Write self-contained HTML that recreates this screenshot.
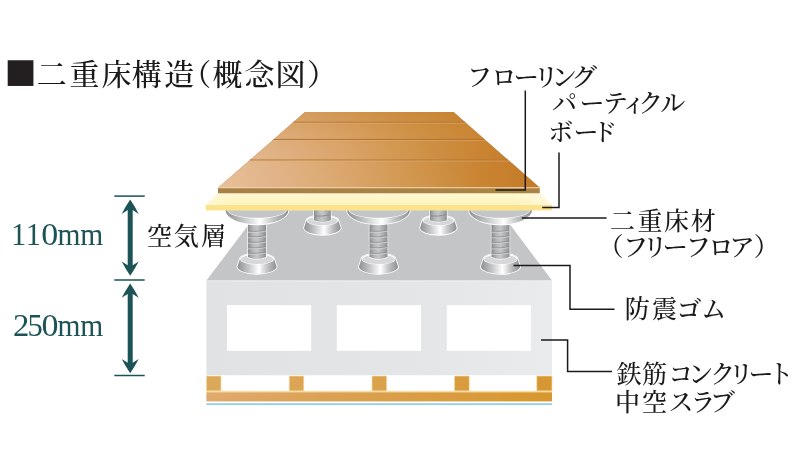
<!DOCTYPE html>
<html lang="ja">
<head>
<meta charset="utf-8">
<title>二重床構造（概念図）</title>
<style>
html,body{margin:0;padding:0;background:#fff;}
body{width:800px;height:474px;overflow:hidden;}
svg{display:block;}
text{font-family:"Liberation Serif", "Noto Serif CJK JP", "Noto Serif CJK SC", serif;font-weight:500;}
</style>
</head>
<body>
<svg width="800" height="474" viewBox="0 0 800 474">
<defs>
<linearGradient id="wood" gradientUnits="userSpaceOnUse" x1="218" y1="0" x2="540" y2="0">
<stop offset="0" stop-color="#e4b88c"/><stop offset="0.15" stop-color="#deae80"/><stop offset="0.38" stop-color="#d8a266"/><stop offset="0.6" stop-color="#d0944a"/><stop offset="0.85" stop-color="#c8822f"/><stop offset="1" stop-color="#c47a28"/>
</linearGradient>
<linearGradient id="woodv" gradientUnits="userSpaceOnUse" x1="0" y1="112" x2="0" y2="188">
<stop offset="0" stop-color="#c07820" stop-opacity="0.35"/><stop offset="0.35" stop-color="#c88630" stop-opacity="0.1"/><stop offset="0.6" stop-color="#c88630" stop-opacity="0"/>
</linearGradient>
<linearGradient id="woodd" gradientUnits="userSpaceOnUse" x1="240" y1="192" x2="330" y2="70">
<stop offset="0" stop-color="#f6dcc4" stop-opacity="0.2"/><stop offset="0.5" stop-color="#f6dcc4" stop-opacity="0.08"/><stop offset="1" stop-color="#f6dcc4" stop-opacity="0"/>
</linearGradient>
<linearGradient id="woodedge" gradientUnits="userSpaceOnUse" x1="218" y1="0" x2="540" y2="0">
<stop offset="0" stop-color="#a68046"/><stop offset="1" stop-color="#aa8444"/>
</linearGradient>
<linearGradient id="shaft" x1="0" y1="0" x2="1" y2="0">
<stop offset="0" stop-color="#8a8c8e"/><stop offset="0.28" stop-color="#b6b7b9"/><stop offset="0.5" stop-color="#c5c6c7"/><stop offset="0.8" stop-color="#a6a8aa"/><stop offset="1" stop-color="#8c8e90"/>
</linearGradient>
<linearGradient id="rim" x1="0" y1="0" x2="1" y2="0">
<stop offset="0" stop-color="#8e9092"/><stop offset="0.3" stop-color="#c8c9ca"/><stop offset="0.55" stop-color="#ffffff"/><stop offset="0.75" stop-color="#c4c5c6"/><stop offset="1" stop-color="#8e9092"/>
</linearGradient>
<linearGradient id="ytop" x1="0" y1="0" x2="0" y2="1">
<stop offset="0" stop-color="#fff8d2"/><stop offset="1" stop-color="#fdf0b2"/>
</linearGradient>
<linearGradient id="yfade" gradientUnits="userSpaceOnUse" x1="515" y1="0" x2="552" y2="0">
<stop offset="0" stop-color="#fffbe6" stop-opacity="0"/><stop offset="1" stop-color="#fffbe6" stop-opacity="0.75"/>
</linearGradient>
<linearGradient id="yfadeL" gradientUnits="userSpaceOnUse" x1="206" y1="0" x2="232" y2="0">
<stop offset="0" stop-color="#fffbe6" stop-opacity="0.5"/><stop offset="1" stop-color="#fffbe6" stop-opacity="0"/>
</linearGradient>
<linearGradient id="beam" gradientUnits="userSpaceOnUse" x1="206" y1="0" x2="552" y2="0">
<stop offset="0" stop-color="#e0aa6c"/><stop offset="0.35" stop-color="#dba152"/><stop offset="1" stop-color="#d8982e"/>
</linearGradient>
<linearGradient id="slabf" gradientUnits="userSpaceOnUse" x1="206" y1="0" x2="552" y2="0">
<stop offset="0" stop-color="#e1e2e4"/><stop offset="0.6" stop-color="#e4e5e6"/><stop offset="1" stop-color="#eaebec"/>
</linearGradient>
<linearGradient id="blockg" gradientUnits="userSpaceOnUse" x1="206" y1="0" x2="552" y2="0">
<stop offset="0" stop-color="#dca85a"/><stop offset="0.4" stop-color="#dba450"/><stop offset="1" stop-color="#d69632"/>
</linearGradient>
<linearGradient id="block" x1="0" y1="0" x2="1" y2="1">
<stop offset="0" stop-color="#dca854"/><stop offset="1" stop-color="#d49a44"/>
</linearGradient>
</defs>
<rect x="206.4" y="280" width="345.6" height="95.2" fill="url(#slabf)"/>
<rect x="227" y="305.2" width="84.19999999999999" height="45.6" fill="#fff"/>
<rect x="336.8" y="305.2" width="84.19999999999999" height="45.6" fill="#fff"/>
<rect x="446.8" y="305.2" width="84.19999999999999" height="45.6" fill="#fff"/>
<polygon points="206.4,280.6 260.4,209 498.4,209 552,280.6" fill="#c4c5c7"/>
<rect x="206.4" y="280.4" width="345.6" height="1.2" fill="#ededee"/>
<rect x="206.4" y="376" width="14.599999999999994" height="15" fill="url(#blockg)" stroke="#f7dca6" stroke-width="0.7"/>
<rect x="289.2" y="376" width="14.600000000000023" height="15" fill="url(#blockg)" stroke="#f7dca6" stroke-width="0.7"/>
<rect x="372" y="376" width="14.699999999999989" height="15" fill="url(#blockg)" stroke="#f7dca6" stroke-width="0.7"/>
<rect x="454.4" y="376" width="14.800000000000011" height="15" fill="url(#blockg)" stroke="#f7dca6" stroke-width="0.7"/>
<rect x="536.8" y="376" width="15.200000000000045" height="15" fill="url(#blockg)" stroke="#f7dca6" stroke-width="0.7"/>
<rect x="206.4" y="390.8" width="345.6" height="1.6" fill="#fbdca4"/>
<rect x="206.4" y="392.3" width="345.6" height="9.1" fill="url(#beam)"/>
<rect x="206.4" y="403.4" width="345.6" height="1.4" fill="#74c6e0"/>
<g><path d="M303.2 227.8 A19.2 7.9 0 0 0 341.59999999999997 227.8 L339.29999999999995 220.5 A16.9 6.1000000000000005 0 0 0 305.5 220.5 Z" fill="#fff"/>
<path d="M304.09999999999997 227.8 A18.3 7.0 0 0 0 340.7 227.8 L338.4 220.5 A16.0 5.2 0 0 0 306.4 220.5 Z" fill="url(#rim)"/>
<ellipse cx="322.4" cy="220.5" rx="16.0" ry="5.2" fill="#fff"/>
<ellipse cx="322.4" cy="220.8" rx="15.1" ry="4.4" fill="#d6d7d8"/>
<path d="M313.29999999999995 210 L313.29999999999995 220.6 Q322.4 224.6 331.5 220.6 L331.5 210 Z" fill="#fff" opacity="0.85"/>
<path d="M314.0 210 L314.0 220.2 Q322.4 223.6 330.79999999999995 220.2 L330.79999999999995 210 Z" fill="url(#shaft)"/>
<path d="M314.0 216 Q322.4 216.8 330.79999999999995 214.6" stroke="#8d8f91" stroke-width="1" fill="none"/></g>
<g><path d="M419.2 227.8 A19.2 7.9 0 0 0 457.59999999999997 227.8 L455.29999999999995 220.5 A16.9 6.1000000000000005 0 0 0 421.5 220.5 Z" fill="#fff"/>
<path d="M420.09999999999997 227.8 A18.3 7.0 0 0 0 456.7 227.8 L454.4 220.5 A16.0 5.2 0 0 0 422.4 220.5 Z" fill="url(#rim)"/>
<ellipse cx="438.4" cy="220.5" rx="16.0" ry="5.2" fill="#fff"/>
<ellipse cx="438.4" cy="220.8" rx="15.1" ry="4.4" fill="#d6d7d8"/>
<path d="M429.29999999999995 210 L429.29999999999995 220.6 Q438.4 224.6 447.5 220.6 L447.5 210 Z" fill="#fff" opacity="0.85"/>
<path d="M430.0 210 L430.0 220.2 Q438.4 223.6 446.79999999999995 220.2 L446.79999999999995 210 Z" fill="url(#shaft)"/>
<path d="M430.0 216 Q438.4 216.8 446.79999999999995 214.6" stroke="#8d8f91" stroke-width="1" fill="none"/></g>
<g><path d="M236.5 266.5 A20.5 8.3 0 0 0 277.5 266.5 L274.9 259 A17.9 6.5 0 0 0 239.1 259 Z" fill="#fff"/>
<path d="M237.4 266.5 A19.6 7.4 0 0 0 276.6 266.5 L274.0 259 A17.0 5.6 0 0 0 240.0 259 Z" fill="url(#rim)"/>
<ellipse cx="257" cy="259" rx="17.0" ry="5.6" fill="#fff"/>
<ellipse cx="257" cy="259.3" rx="16.1" ry="4.8" fill="#d6d7d8"/><path d="M247.3 222 L247.3 257.4 Q257 262.2 266.7 257.4 L266.7 222 Z" fill="#fff" opacity="0.85"/>
<path d="M248 222 L248 257 Q257 261.2 266 257 L266 222 Z" fill="url(#shaft)"/>
<path d="M248 231.3 Q257 231.9 266 230.2" stroke="#8f9193" stroke-width="0.9" fill="none"/>
<path d="M248 232.3 Q257 232.9 266 231.2" stroke="#dcddde" stroke-width="0.8" fill="none" opacity="0.8"/>
<path d="M248 236.8 Q257 237.4 266 235.7" stroke="#8f9193" stroke-width="0.9" fill="none"/>
<path d="M248 237.8 Q257 238.4 266 236.7" stroke="#dcddde" stroke-width="0.8" fill="none" opacity="0.8"/>
<path d="M248 242.3 Q257 242.9 266 241.2" stroke="#8f9193" stroke-width="0.9" fill="none"/>
<path d="M248 243.3 Q257 243.9 266 242.2" stroke="#dcddde" stroke-width="0.8" fill="none" opacity="0.8"/>
<path d="M248 247.8 Q257 248.4 266 246.7" stroke="#8f9193" stroke-width="0.9" fill="none"/>
<path d="M248 248.8 Q257 249.4 266 247.7" stroke="#dcddde" stroke-width="0.8" fill="none" opacity="0.8"/>
<path d="M248 253.3 Q257 253.9 266 252.2" stroke="#8f9193" stroke-width="0.9" fill="none"/>
<path d="M248 254.3 Q257 254.9 266 253.2" stroke="#dcddde" stroke-width="0.8" fill="none" opacity="0.8"/>
<path d="M224.6 209.5 L224.6 210 A32.4 15.3 0 0 0 289.4 210 L289.4 209.5 Z" fill="#fff"/>
<path d="M225.5 209.5 L225.5 210 A31.5 14.4 0 0 0 288.5 210 L288.5 209.5 Z" fill="url(#rim)"/>
<path d="M227.2 209.5 L227.2 210 A29.8 8.6 0 0 0 286.8 210 L286.8 209.5 Z" fill="#fff" opacity="0.9"/>
<path d="M227.8 209.5 L227.8 210 A29.2 7.8 0 0 0 286.2 210 L286.2 209.5 Z" fill="#c4c5c7"/></g>
<g><path d="M358.0 266.5 A20.5 8.3 0 0 0 399.0 266.5 L396.4 259 A17.9 6.5 0 0 0 360.6 259 Z" fill="#fff"/>
<path d="M358.9 266.5 A19.6 7.4 0 0 0 398.1 266.5 L395.5 259 A17.0 5.6 0 0 0 361.5 259 Z" fill="url(#rim)"/>
<ellipse cx="378.5" cy="259" rx="17.0" ry="5.6" fill="#fff"/>
<ellipse cx="378.5" cy="259.3" rx="16.1" ry="4.8" fill="#d6d7d8"/><path d="M368.8 222 L368.8 257.4 Q378.5 262.2 388.2 257.4 L388.2 222 Z" fill="#fff" opacity="0.85"/>
<path d="M369.5 222 L369.5 257 Q378.5 261.2 387.5 257 L387.5 222 Z" fill="url(#shaft)"/>
<path d="M369.5 231.3 Q378.5 231.9 387.5 230.2" stroke="#8f9193" stroke-width="0.9" fill="none"/>
<path d="M369.5 232.3 Q378.5 232.9 387.5 231.2" stroke="#dcddde" stroke-width="0.8" fill="none" opacity="0.8"/>
<path d="M369.5 236.8 Q378.5 237.4 387.5 235.7" stroke="#8f9193" stroke-width="0.9" fill="none"/>
<path d="M369.5 237.8 Q378.5 238.4 387.5 236.7" stroke="#dcddde" stroke-width="0.8" fill="none" opacity="0.8"/>
<path d="M369.5 242.3 Q378.5 242.9 387.5 241.2" stroke="#8f9193" stroke-width="0.9" fill="none"/>
<path d="M369.5 243.3 Q378.5 243.9 387.5 242.2" stroke="#dcddde" stroke-width="0.8" fill="none" opacity="0.8"/>
<path d="M369.5 247.8 Q378.5 248.4 387.5 246.7" stroke="#8f9193" stroke-width="0.9" fill="none"/>
<path d="M369.5 248.8 Q378.5 249.4 387.5 247.7" stroke="#dcddde" stroke-width="0.8" fill="none" opacity="0.8"/>
<path d="M369.5 253.3 Q378.5 253.9 387.5 252.2" stroke="#8f9193" stroke-width="0.9" fill="none"/>
<path d="M369.5 254.3 Q378.5 254.9 387.5 253.2" stroke="#dcddde" stroke-width="0.8" fill="none" opacity="0.8"/>
<path d="M346.1 209.5 L346.1 210 A32.4 15.3 0 0 0 410.9 210 L410.9 209.5 Z" fill="#fff"/>
<path d="M347.0 209.5 L347.0 210 A31.5 14.4 0 0 0 410.0 210 L410.0 209.5 Z" fill="url(#rim)"/>
<path d="M348.7 209.5 L348.7 210 A29.8 8.6 0 0 0 408.3 210 L408.3 209.5 Z" fill="#fff" opacity="0.9"/>
<path d="M349.3 209.5 L349.3 210 A29.2 7.8 0 0 0 407.7 210 L407.7 209.5 Z" fill="#c4c5c7"/></g>
<g><path d="M480.0 266.5 A20.5 8.3 0 0 0 521.0 266.5 L518.4 259 A17.9 6.5 0 0 0 482.6 259 Z" fill="#fff"/>
<path d="M480.9 266.5 A19.6 7.4 0 0 0 520.1 266.5 L517.5 259 A17.0 5.6 0 0 0 483.5 259 Z" fill="url(#rim)"/>
<ellipse cx="500.5" cy="259" rx="17.0" ry="5.6" fill="#fff"/>
<ellipse cx="500.5" cy="259.3" rx="16.1" ry="4.8" fill="#d6d7d8"/><path d="M490.8 222 L490.8 257.4 Q500.5 262.2 510.2 257.4 L510.2 222 Z" fill="#fff" opacity="0.85"/>
<path d="M491.5 222 L491.5 257 Q500.5 261.2 509.5 257 L509.5 222 Z" fill="url(#shaft)"/>
<path d="M491.5 231.3 Q500.5 231.9 509.5 230.2" stroke="#8f9193" stroke-width="0.9" fill="none"/>
<path d="M491.5 232.3 Q500.5 232.9 509.5 231.2" stroke="#dcddde" stroke-width="0.8" fill="none" opacity="0.8"/>
<path d="M491.5 236.8 Q500.5 237.4 509.5 235.7" stroke="#8f9193" stroke-width="0.9" fill="none"/>
<path d="M491.5 237.8 Q500.5 238.4 509.5 236.7" stroke="#dcddde" stroke-width="0.8" fill="none" opacity="0.8"/>
<path d="M491.5 242.3 Q500.5 242.9 509.5 241.2" stroke="#8f9193" stroke-width="0.9" fill="none"/>
<path d="M491.5 243.3 Q500.5 243.9 509.5 242.2" stroke="#dcddde" stroke-width="0.8" fill="none" opacity="0.8"/>
<path d="M491.5 247.8 Q500.5 248.4 509.5 246.7" stroke="#8f9193" stroke-width="0.9" fill="none"/>
<path d="M491.5 248.8 Q500.5 249.4 509.5 247.7" stroke="#dcddde" stroke-width="0.8" fill="none" opacity="0.8"/>
<path d="M491.5 253.3 Q500.5 253.9 509.5 252.2" stroke="#8f9193" stroke-width="0.9" fill="none"/>
<path d="M491.5 254.3 Q500.5 254.9 509.5 253.2" stroke="#dcddde" stroke-width="0.8" fill="none" opacity="0.8"/>
<path d="M468.1 209.5 L468.1 210 A32.4 15.3 0 0 0 532.9 210 L532.9 209.5 Z" fill="#fff"/>
<path d="M469.0 209.5 L469.0 210 A31.5 14.4 0 0 0 532.0 210 L532.0 209.5 Z" fill="url(#rim)"/>
<path d="M470.7 209.5 L470.7 210 A29.8 8.6 0 0 0 530.3 210 L530.3 209.5 Z" fill="#fff" opacity="0.9"/>
<path d="M471.3 209.5 L471.3 210 A29.2 7.8 0 0 0 529.7 210 L529.7 209.5 Z" fill="#c4c5c7"/></g>
<polygon points="218,193 539.8,193 551.8,205 551.8,210.2 205.8,210.2 205.8,205" fill="url(#ytop)"/>
<polygon points="218,193 539.8,193 551.8,205 205.8,205" fill="url(#yfade)"/>
<polygon points="218,193 539.8,193 551.8,205 205.8,205" fill="url(#yfadeL)"/>
<rect x="205.8" y="205" width="346" height="5.3" fill="#fbe38c"/>
<polygon points="305,112 453.5,112 539.8,187.8 539.8,193.3 218,193.3 218,187.8" fill="url(#woodedge)"/>
<polygon points="305,112 453.5,112 539.8,187.8 218,187.8" fill="url(#wood)"/>
<polygon points="305,112 453.5,112 539.8,187.8 218,187.8" fill="url(#woodv)"/>
<polygon points="305,112 453.5,112 539.8,187.8 218,187.8" fill="url(#woodd)"/>
<line x1="293.3" y1="122.2" x2="465.1" y2="122.2" stroke="#b27433" stroke-width="1"/>
<line x1="292.1" y1="123.2" x2="466.3" y2="123.2" stroke="#e2b47c" stroke-width="0.7" opacity="0.7"/>
<line x1="273.6" y1="139.4" x2="484.7" y2="139.4" stroke="#b27433" stroke-width="1"/>
<line x1="272.4" y1="140.4" x2="485.8" y2="140.4" stroke="#e2b47c" stroke-width="0.7" opacity="0.7"/>
<line x1="249.9" y1="160" x2="508.1" y2="160" stroke="#b27433" stroke-width="1"/>
<line x1="248.8" y1="161" x2="509.3" y2="161" stroke="#e2b47c" stroke-width="0.7" opacity="0.7"/>
<line x1="218" y1="187.8" x2="539.8" y2="187.8" stroke="#f4dcb8" stroke-width="1.1"/>
<path d="M525.3 90.5 V190 H495.5" stroke="#1a1a1a" stroke-width="1.5" fill="none"/>
<path d="M559 152.5 V207.5 H542.2" stroke="#1a1a1a" stroke-width="1.5" fill="none"/>
<path d="M521.8 218 H606.6" stroke="#1a1a1a" stroke-width="1.5" fill="none"/>
<path d="M513.5 265.5 H570 V309.2 H614.5" stroke="#1a1a1a" stroke-width="1.5" fill="none"/>
<path d="M541 340 H567.6 V371.4 H612" stroke="#1a1a1a" stroke-width="1.5" fill="none"/>
<rect x="114.3" y="195.35" width="30.4" height="1.5" fill="#1c5357"/>
<rect x="114.3" y="279.25" width="30.4" height="1.5" fill="#1c5357"/>
<rect x="114.3" y="374.75" width="30.4" height="1.5" fill="#1c5357"/>
<path d="M127.69999999999999 237.7 L127.69999999999999 210.1 L121.69999999999999 213.9 Q125.43999999999998 206.75 130.2 199.6 Q134.95999999999998 206.75 138.7 213.9 L132.7 210.1 L132.7 265.3 L138.7 261.5 Q134.95999999999998 268.65000000000003 130.2 275.8 Q125.43999999999998 268.65000000000003 121.69999999999999 261.5 L127.69999999999999 265.3 Z" fill="#1c5357"/>
<path d="M127.69999999999999 328.35 L127.69999999999999 293.9 L121.69999999999999 297.7 Q125.43999999999998 290.54999999999995 130.2 283.4 Q134.95999999999998 290.54999999999995 138.7 297.7 L132.7 293.9 L132.7 362.8 L138.7 359.0 Q134.95999999999998 366.15000000000003 130.2 373.3 Q125.43999999999998 366.15000000000003 121.69999999999999 359.0 L127.69999999999999 362.8 Z" fill="#1c5357"/>
<g style="will-change:transform">
<text fill="#1a1a1a"><tspan x="4.4" y="88.9" font-size="53.2" fill="#231f20">■</tspan><tspan x="36.8 69.4 101.5 131.8 164.2 181.3 212.5 244.6 275.4 307.0" y="85.0" font-size="30">二重床構造（概念図）</tspan></text>
<text x="466.8 491.2 513.4 533.2 551.4 571.6" y="85.6" font-size="25.5" fill="#1a1a1a">フローリング</text>
<text x="552.0 579.6 603.1 621.3 638.2 660.2" y="112.4" font-size="25" fill="#1a1a1a">パーティクル</text>
<text x="548.2 573.6 592.2" y="140.5" font-size="25" fill="#1a1a1a">ボード</text>
<text x="610.0 637.6 664.0 690.8" y="229.9" font-size="25" fill="#1a1a1a">二重床材</text>
<text x="598.0 622.7 642.2 662.4 685.5 708.2 729.3 753.7" y="255.8" font-size="25.5" fill="#1a1a1a">（フリーフロア）</text>
<text x="624.8 652.0 676.6 701.3" y="318.2" font-size="25" fill="#1a1a1a">防震ゴム</text>
<text x="616.5 642.0 668.2 688.3 710.3 728.5 748.6 768.6" y="383.4" font-size="25" fill="#1a1a1a">鉄筋コンクリート</text>
<text x="614.9 642.0 668.6 690.5 710.0" y="410.5" font-size="25" fill="#1a1a1a">中空スラブ</text>
<text x="147.1 173.8 201.1" y="245.0" font-size="25" fill="#1a1a1a">空気層</text>
<text y="245" font-size="30.5" fill="#1c5357"><tspan x="11 25.7">11</tspan><tspan x="41.2" textLength="17" lengthAdjust="spacingAndGlyphs">0</tspan><tspan x="57.4" textLength="45.9" lengthAdjust="spacingAndGlyphs">mm</tspan></text>
<text y="335.6" font-size="30.5" fill="#1c5357"><tspan x="13" textLength="16.3" lengthAdjust="spacingAndGlyphs">2</tspan><tspan x="27.4">5</tspan><tspan x="41.6" textLength="17" lengthAdjust="spacingAndGlyphs">0</tspan><tspan x="57.4" textLength="45.9" lengthAdjust="spacingAndGlyphs">mm</tspan></text>
</g>
</svg>
</body>
</html>
